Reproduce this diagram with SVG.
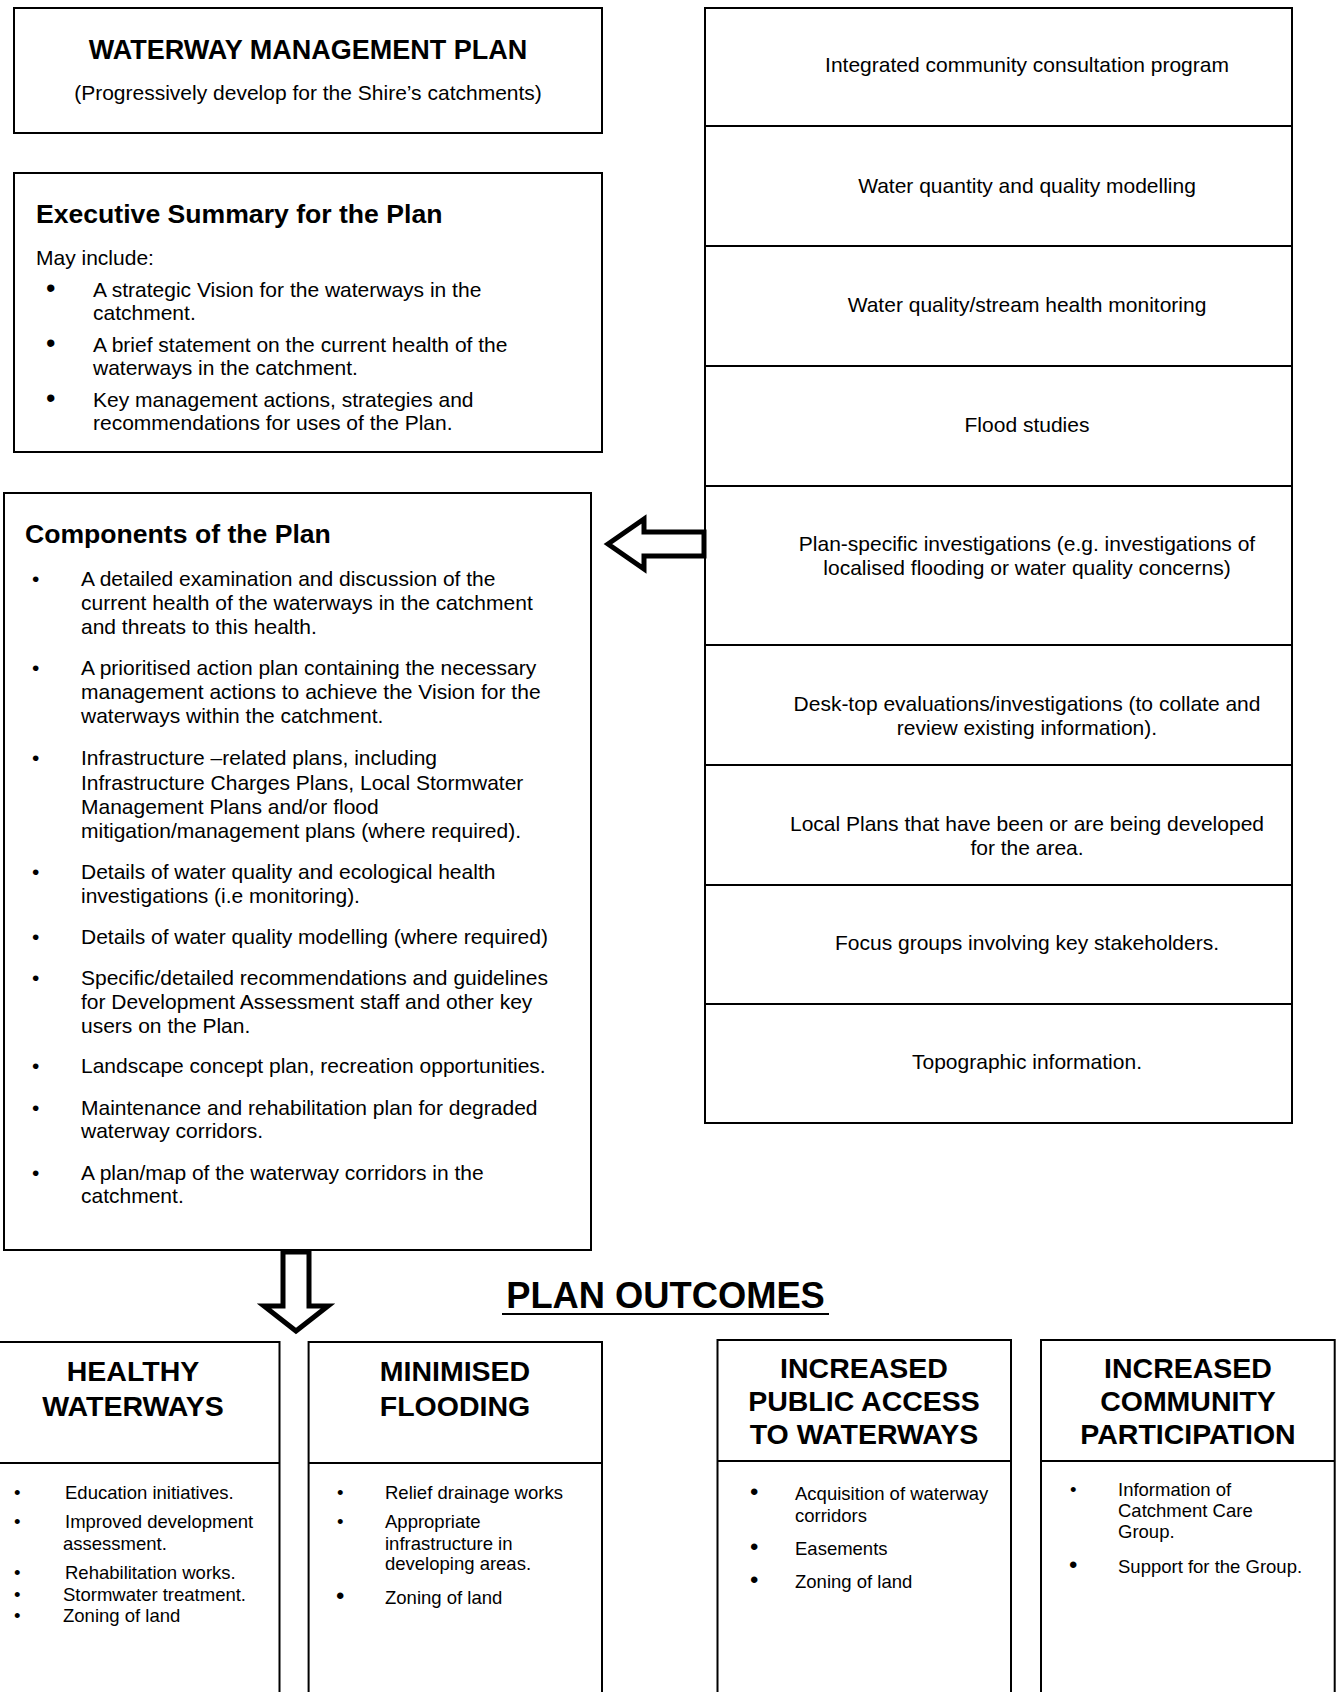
<svg xmlns="http://www.w3.org/2000/svg" width="1338" height="1692" viewBox="0 0 1338 1692">
<style>
.box{fill:#fff;stroke:#000;stroke-width:2}
.ln{stroke:#000;stroke-width:2}
.t{font-family:"Liberation Sans",Arial,sans-serif;font-size:21px;fill:#000}
.b{font-weight:bold}
.c{text-anchor:middle}
.h{font-size:26.6px;font-weight:bold}
.oh{font-size:28.5px;font-weight:bold;text-anchor:middle}
.s{font-size:18.5px}
.bb{font-size:27px}
.bm{font-size:24px}
.ttl{font-size:27px}
.po{font-size:36.3px}
.arrow{fill:#fff;stroke:#000;stroke-width:5;stroke-linejoin:miter}
</style>
<rect width="1338" height="1692" fill="#fff"/>

<g id="node-title">
<rect class="box" x="14" y="8" width="588" height="125"/>
<text class="t b c ttl" x="308" y="59">WATERWAY MANAGEMENT PLAN</text>
<text class="t c" x="308" y="100">(Progressively develop for the Shire’s catchments)</text>
</g>

<g id="node-executive">
<rect class="box" x="14" y="173" width="588" height="279"/>
<text class="t h" x="36" y="223">Executive Summary for the Plan</text>
<text class="t" x="36" y="265">May include:</text>
<text class="t bb" x="46" y="297">•</text>
<text class="t" x="93" y="297">A strategic Vision for the waterways in the</text>
<text class="t" x="93" y="320">catchment.</text>
<text class="t bb" x="46" y="352">•</text>
<text class="t" x="93" y="352">A brief statement on the current health of the</text>
<text class="t" x="93" y="375">waterways in the catchment.</text>
<text class="t bb" x="46" y="407">•</text>
<text class="t" x="93" y="407">Key management actions, strategies and</text>
<text class="t" x="93" y="430">recommendations for uses of the Plan.</text>
</g>

<g id="node-components">
<rect class="box" x="4" y="493" width="587" height="757"/>
<text class="t h" x="25" y="543">Components of the Plan</text>
<g class="t">
<text x="32" y="586">•</text><text x="81" y="586">A detailed examination and discussion of the</text>
<text x="81" y="610">current health of the waterways in the catchment</text>
<text x="81" y="634">and threats to this health.</text>
<text x="32" y="675">•</text><text x="81" y="675">A prioritised action plan containing the necessary</text>
<text x="81" y="699">management actions to achieve the Vision for the</text>
<text x="81" y="723">waterways within the catchment.</text>
<text x="32" y="765">•</text><text x="81" y="765">Infrastructure –related plans, including</text>
<text x="81" y="790">Infrastructure Charges Plans, Local Stormwater</text>
<text x="81" y="814">Management Plans and/or flood</text>
<text x="81" y="838">mitigation/management plans (where required).</text>
<text x="32" y="879">•</text><text x="81" y="879">Details of water quality and ecological health</text>
<text x="81" y="903">investigations (i.e monitoring).</text>
<text x="32" y="944">•</text><text x="81" y="944">Details of water quality modelling (where required)</text>
<text x="32" y="985">•</text><text x="81" y="985">Specific/detailed recommendations and guidelines</text>
<text x="81" y="1009">for Development Assessment staff and other key</text>
<text x="81" y="1033">users on the Plan.</text>
<text x="32" y="1073">•</text><text x="81" y="1073">Landscape concept plan, recreation opportunities.</text>
<text x="32" y="1115">•</text><text x="81" y="1115">Maintenance and rehabilitation plan for degraded</text>
<text x="81" y="1138">waterway corridors.</text>
<text x="32" y="1180">•</text><text x="81" y="1180">A plan/map of the waterway corridors in the</text>
<text x="81" y="1203">catchment.</text>
</g>
</g>

<g id="node-inputs">
<g id="input-1"><rect class="box" x="705" y="8" width="587" height="118"/><text class="t c" x="1027" y="72">Integrated community consultation program</text></g>
<g id="input-2"><rect class="box" x="705" y="126" width="587" height="120"/><text class="t c" x="1027" y="193">Water quantity and quality modelling</text></g>
<g id="input-3"><rect class="box" x="705" y="246" width="587" height="120"/><text class="t c" x="1027" y="312">Water quality/stream health monitoring</text></g>
<g id="input-4"><rect class="box" x="705" y="366" width="587" height="120"/><text class="t c" x="1027" y="432">Flood studies</text></g>
<g id="input-5"><rect class="box" x="705" y="486" width="587" height="159"/><text class="t c" x="1027" y="551">Plan-specific investigations (e.g. investigations of</text><text class="t c" x="1027" y="575">localised flooding or water quality concerns)</text></g>
<g id="input-6"><rect class="box" x="705" y="645" width="587" height="120"/><text class="t c" x="1027" y="711">Desk-top evaluations/investigations (to collate and</text><text class="t c" x="1027" y="735">review existing information).</text></g>
<g id="input-7"><rect class="box" x="705" y="765" width="587" height="120"/><text class="t c" x="1027" y="831">Local Plans that have been or are being developed</text><text class="t c" x="1027" y="855">for the area.</text></g>
<g id="input-8"><rect class="box" x="705" y="885" width="587" height="119"/><text class="t c" x="1027" y="950">Focus groups involving key stakeholders.</text></g>
<g id="input-9"><rect class="box" x="705" y="1004" width="587" height="119"/><text class="t c" x="1027" y="1069">Topographic information.</text></g>
</g>

<g id="connectors">
<polygon class="arrow" points="608,544 644,519 644,532 704,532 704,556 644,556 644,569"/>
<polygon class="arrow" points="283,1252 309,1252 309,1306 328,1306 296,1331 264,1306 283,1306"/>
</g>

<g id="node-outcomes-title">
<text class="t b c po" x="665.5" y="1308">PLAN OUTCOMES</text>
<line class="ln" x1="502" y1="1314" x2="829" y2="1314" stroke-width="2.5"/>
</g>

<g id="node-healthy">
<rect class="box" x="-13" y="1342" width="292.5" height="400"/>
<line class="ln" x1="-13" y1="1463" x2="279.5" y2="1463"/>
<text class="t oh" x="133" y="1381">HEALTHY</text>
<text class="t oh" x="133" y="1416">WATERWAYS</text>
<g class="t s">
<text x="14" y="1499">•</text><text x="65" y="1499">Education initiatives.</text>
<text x="14" y="1528">•</text><text x="65" y="1528">Improved development</text>
<text x="63" y="1550">assessment.</text>
<text x="14" y="1579">•</text><text x="65" y="1579">Rehabilitation works.</text>
<text x="14" y="1601">•</text><text x="63" y="1601">Stormwater treatment.</text>
<text x="14" y="1622">•</text><text x="63" y="1622">Zoning of land</text>
</g>
</g>

<g id="node-flooding">
<rect class="box" x="308.6" y="1342" width="293.4" height="400"/>
<line class="ln" x1="308.6" y1="1463" x2="602" y2="1463"/>
<text class="t oh" x="455" y="1381">MINIMISED</text>
<text class="t oh" x="455" y="1416">FLOODING</text>
<g class="t s">
<text x="337" y="1499">•</text><text x="385" y="1499">Relief drainage works</text>
<text x="337" y="1528">•</text><text x="385" y="1528">Appropriate</text>
<text x="385" y="1550">infrastructure in</text>
<text x="385" y="1570">developing areas.</text>
<text class="bm" x="336" y="1604">•</text><text x="385" y="1604">Zoning of land</text>
</g>
</g>

<g id="node-access">
<rect class="box" x="717.5" y="1340" width="293.5" height="400"/>
<line class="ln" x1="717.5" y1="1461" x2="1011" y2="1461"/>
<text class="t oh" x="864" y="1378">INCREASED</text>
<text class="t oh" x="864" y="1411">PUBLIC ACCESS</text>
<text class="t oh" x="864" y="1444">TO WATERWAYS</text>
<g class="t s">
<text class="bm" x="750" y="1500">•</text><text x="795" y="1500">Acquisition of waterway</text>
<text x="795" y="1522">corridors</text>
<text class="bm" x="750" y="1555">•</text><text x="795" y="1555">Easements</text>
<text class="bm" x="750" y="1588">•</text><text x="795" y="1588">Zoning of land</text>
</g>
</g>

<g id="node-community">
<rect class="box" x="1041" y="1340" width="293.7" height="400"/>
<line class="ln" x1="1041" y1="1461" x2="1334.7" y2="1461"/>
<text class="t oh" x="1188" y="1378">INCREASED</text>
<text class="t oh" x="1188" y="1411">COMMUNITY</text>
<text class="t oh" x="1188" y="1444">PARTICIPATION</text>
<g class="t s">
<text x="1070" y="1496">•</text><text x="1118" y="1496">Information of</text>
<text x="1118" y="1517">Catchment Care</text>
<text x="1118" y="1538">Group.</text>
<text class="bm" x="1069" y="1573">•</text><text x="1118" y="1573">Support for the Group.</text>
</g>
</g>
</svg>
